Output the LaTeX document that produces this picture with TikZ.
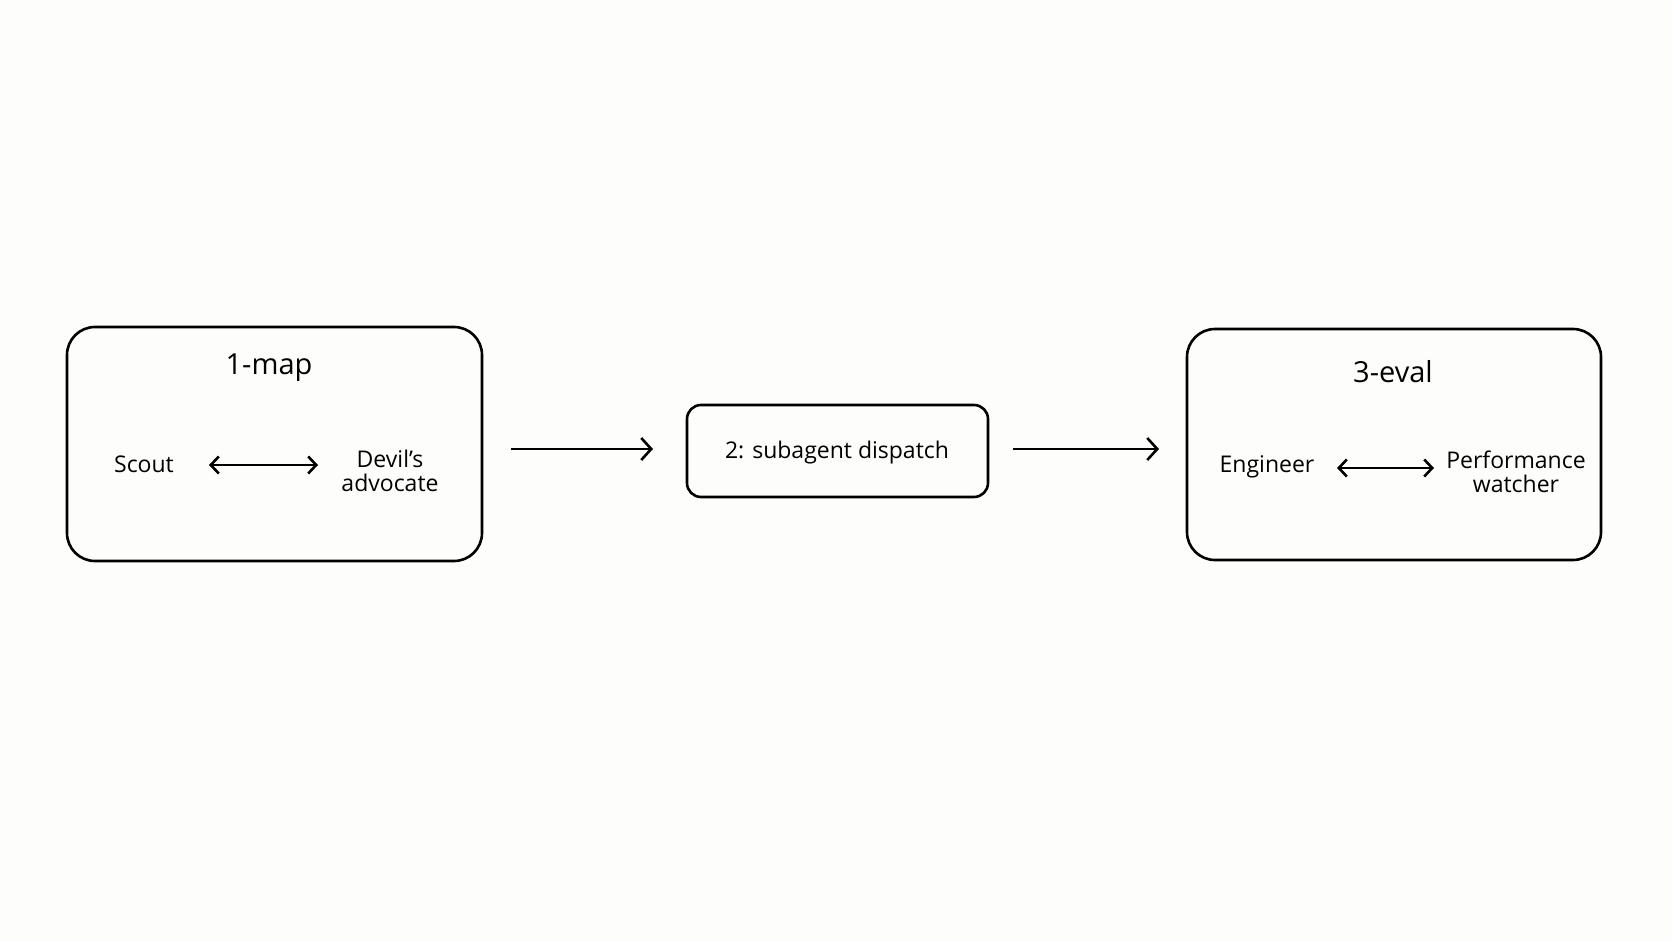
\documentclass[tikz,border=0pt]{standalone}
\usepackage{fontspec}
\setmainfont{Open Sans}
\usetikzlibrary{arrows.meta}
\begin{document}
\begin{tikzpicture}[x=1pt,y=-1pt,
  box/.style={draw,line width=2.6pt,rounded corners=28pt},
  lbl/.style={font=\fontsize{23}{27}\selectfont,align=center},
  ttl/.style={font=\fontsize{29}{32}\selectfont},
  arr/.style={line width=2.6pt,-{Straight Barb[length=10pt,width=22pt,line width=2.6pt]}},
  darr/.style={line width=2.6pt,{Straight Barb[length=8pt,width=17pt,line width=2.6pt]}-{Straight Barb[length=8pt,width=17pt,line width=2.6pt]}}]
\fill[fill={rgb,255:red,253;green,253;blue,251}] (0,0) rectangle (1672,941);
\useasboundingbox (0,0) rectangle (1672,941);
\node[box,minimum width=415pt,minimum height=234pt] (b1) at (274.5,444) {};
\node[box,rounded corners=14pt,minimum width=301pt,minimum height=92pt] (b2) at (837.5,451) {};
\node[box,minimum width=414pt,minimum height=231pt] (b3) at (1394,444.5) {};
\node[ttl] (t1) at (269,368) {1-map};
\node[ttl] (t3) at (1393,372) {3-eval};
\node[lbl] (scout) at (144,464) {Scout};
\node[lbl] (devil) at (390,471) {Devil's\\[-3pt]advocate};
\node[lbl] (disp) at (837,453) {2: subagent dispatch};
\node[lbl] (eng) at (1267,467) {Engineer};
\node[lbl] (perf) at (1516,472) {Performance\\[-3pt]watcher};
\coordinate (a1s) at (511,449); \coordinate (a1e) at (653,449);
\coordinate (a2s) at (1013,449); \coordinate (a2e) at (1159,449);
\coordinate (d1) at (209,465); \coordinate (d2) at (318,465);
\coordinate (e1) at (1337,468); \coordinate (e2) at (1434,468);
\draw[arr] (a1s) -- (a1e);
\draw[arr] (a2s) -- (a2e);
\draw[darr] (d1) -- (d2);
\draw[darr] (e1) -- (e2);
\end{tikzpicture}
\end{document}
